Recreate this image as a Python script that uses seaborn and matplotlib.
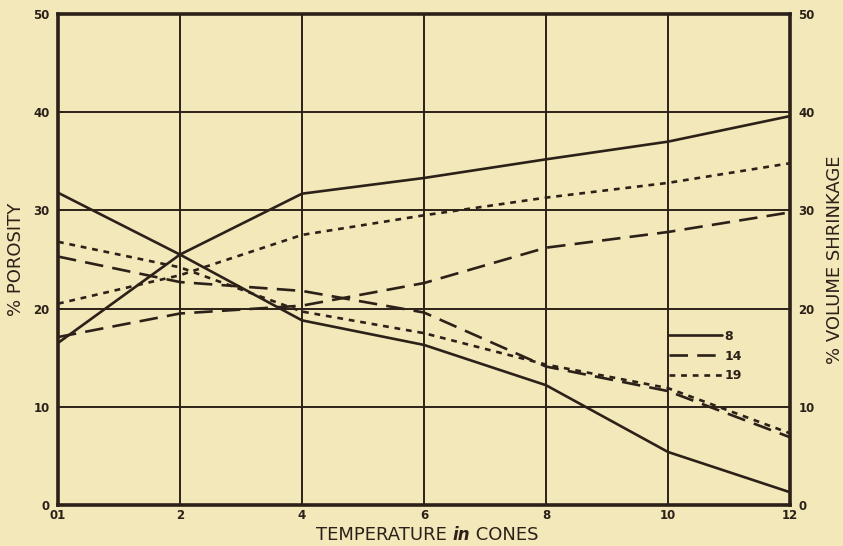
import matplotlib
matplotlib.use("Agg")
import matplotlib.pyplot as plt
import numpy as np
import pandas as pd
import seaborn as sns

# temperature in cones (01 plotted at 0)
cones = [0, 2, 4, 6, 8, 10, 12]
cone_labels = ["01", "2", "4", "6", "8", "10", "12"]

# % porosity (falling curves)
porosity_8 = [31.8, 25.5, 18.8, 16.3, 12.2, 5.4, 1.3]
porosity_14 = [25.3, 22.7, 21.8, 19.6, 14.1, 11.6, 6.9]
porosity_19 = [26.8, 24.2, 19.7, 17.5, 14.3, 11.9, 7.3]

# % volume shrinkage (rising curves)
shrink_8 = [16.5, 25.5, 31.7, 33.3, 35.2, 37.0, 39.6]
shrink_14 = [17.1, 19.5, 20.3, 22.6, 26.2, 27.8, 29.8]
shrink_19 = [20.5, 23.4, 27.5, 29.5, 31.3, 32.8, 34.8]

y_ticks = [0, 10, 20, 30, 40, 50]

INK = "#2b2118"
PAPER = "#f3e8ba"

rows = []
for sample, por, shr in [("8", porosity_8, shrink_8),
                         ("14", porosity_14, shrink_14),
                         ("19", porosity_19, shrink_19)]:
    for x, p, s in zip(cones, por, shr):
        rows.append({"cone": x, "value": p, "sample": sample, "kind": "porosity"})
        rows.append({"cone": x, "value": s, "sample": sample, "kind": "shrinkage"})
df = pd.DataFrame(rows)

sns.set_theme(style="white")
plt.rcParams["font.family"] = ["DejaVu Sans"]

fig = plt.figure(figsize=(8.43, 5.46), dpi=100, facecolor=PAPER)
ax = fig.add_axes([0.0688, 0.0751, 0.8683, 0.8993])
ax.set_facecolor(PAPER)

dash_map = {"8": (None, None), "14": (7, 3.5), "19": (2.2, 2.2)}

for (sample, kind), sub in df.groupby(["sample", "kind"], sort=False):
    sns.lineplot(data=sub, x="cone", y="value", ax=ax, color=INK,
                 lw=1.9, legend=False, estimator=None)
    line = ax.lines[-1]
    if dash_map[sample][0] is None:
        line.set_linestyle("-")
    else:
        line.set_dashes(dash_map[sample])
    if kind == "porosity":
        line.set_label(sample)
    else:
        line.set_label("_" + sample)

ax.set_xlim(0, 12)
ax.set_ylim(0, 50)
ax.set_xticks(cones)
ax.set_xticklabels(cone_labels)
ax.set_yticks(y_ticks)
ax.grid(True, color=INK, lw=1.4)
for sp in ax.spines.values():
    sp.set_color(INK)
    sp.set_linewidth(2.6)
ax.tick_params(axis="both", length=0, colors=INK, labelsize=8.5)
for lab in ax.get_xticklabels() + ax.get_yticklabels():
    lab.set_fontweight("bold")
ax.tick_params(axis="x", pad=3)
ax.tick_params(axis="y", pad=6)

ax2 = ax.twinx()
ax2.set_ylim(0, 50)
ax2.set_yticks(y_ticks)
ax2.tick_params(axis="y", length=0, colors=INK, labelsize=8.5, pad=6)
for lab in ax2.get_yticklabels():
    lab.set_fontweight("bold")
for sp in ax2.spines.values():
    sp.set_visible(False)

ax.set_xlabel("")
ax.set_ylabel("% POROSITY", fontsize=13, color=INK, labelpad=6)
ax2.set_ylabel("% VOLUME SHRINKAGE", fontsize=13, color=INK, labelpad=8)

fig.text(0.537, 0.004, "TEMPERATURE ", ha="right", va="bottom",
         fontsize=13, color=INK)
fig.text(0.537, 0.004, "in", ha="left", va="bottom", fontsize=12,
         color=INK, fontweight="bold", style="italic")
fig.text(0.558, 0.004, " CONES", ha="left", va="bottom", fontsize=13,
         color=INK)

leg = ax.legend(loc="upper left", bbox_to_anchor=(0.82, 0.38), frameon=False,
                handlelength=4.2, handletextpad=0.2, labelspacing=0.55,
                fontsize=9, labelcolor=INK)
for t in leg.get_texts():
    t.set_fontweight("bold")

fig.savefig("out.png", dpi=100, facecolor=PAPER)
